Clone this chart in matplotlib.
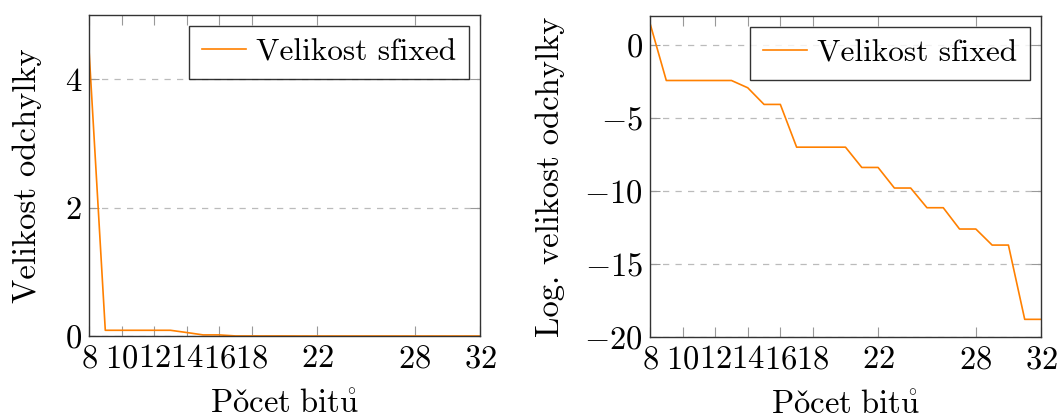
import numpy as np
import matplotlib
matplotlib.use("Agg")
import matplotlib.pyplot as plt

bits = [8, 9, 10, 11, 12, 13, 14, 15, 16, 17, 18, 19, 20, 21, 22, 23, 24, 25, 26, 27, 28, 29, 30, 31, 32]
dev_linear = [4.46, 0.089, 0.089, 0.089, 0.089, 0.089, 0.054, 0.0172, 0.0172, 0.00092, 0.00092, 0.00092,
              0.00092, 0.000229, 0.000229, 5.6e-5, 5.6e-5, 1.45e-5, 1.45e-5, 3.4e-6, 3.4e-6, 1.1e-6, 1.1e-6,
              6.9e-9, 6.9e-9]
dev_log = [1.5, -2.42, -2.42, -2.42, -2.42, -2.42, -2.92, -4.06, -4.06, -6.99, -6.99, -6.99, -6.99,
           -8.38, -8.38, -9.79, -9.79, -11.14, -11.14, -12.6, -12.6, -13.7, -13.7, -18.79, -18.79]
xticks = [8, 10, 12, 14, 16, 18, 22, 28, 32]
series_label = "Velikost sfixed"
xlabel = r"$\mathrm{Po\check{c}et\ bit\mathring{u}}$"
ylabels = ["Velikost odchylky", "Log. velikost odchylky"]

FS = 23.5
plt.rcParams.update({
    "font.family": ["cmr10", "DejaVu Serif"],
    "mathtext.fontset": "cm",
    "axes.formatter.use_mathtext": True,
    "font.size": FS,
    "axes.unicode_minus": True,
})

fig = plt.figure(figsize=(10.59, 4.19), dpi=100)
ax1 = fig.add_axes([89/1059, 83/419, 391/1059, 321/419])
ax2 = fig.add_axes([650/1059, 82/419, 391/1059, 321/419])

color = "#ff8000"

def style(ax, ylabel, ypad):
    ax.set_xlim(8, 32)
    ax.set_xticks(xticks)
    ax.grid(axis="y", linestyle=(0, (5, 5)), color="#bbbbbb", linewidth=0.9)
    ax.set_axisbelow(True)
    ax.tick_params(direction="in", length=7, width=0.8, color="#999999", top=True, right=True,
                   labelsize=FS, pad=5)
    ax.tick_params(axis="x", pad=6)
    for s in ax.spines.values():
        s.set_color("#333333")
        s.set_linewidth(1.0)
    ax.set_xlabel(xlabel, fontsize=FS, labelpad=12)
    ax.set_ylabel(ylabel, fontsize=FS, labelpad=ypad)
    leg = ax.legend(loc="upper right", fontsize=22.5, frameon=True, fancybox=False,
                    handlelength=1.4, handletextpad=0.35, borderpad=0.4, borderaxespad=0.35)
    leg.get_frame().set_edgecolor("black")
    leg.get_frame().set_linewidth(1.0)

ax1.plot(bits, dev_linear, color=color, linewidth=1.2, label=series_label)
ax1.set_ylim(0, 5)
ax1.set_yticks([0, 2, 4])
style(ax1, ylabels[0], 16)

ax2.plot(bits, dev_log, color=color, linewidth=1.2, label=series_label)
ax2.set_ylim(-20, 2)
ax2.set_yticks([0, -5, -10, -15, -20])
style(ax2, ylabels[1], 14)

fig.savefig("out.png", dpi=100)
